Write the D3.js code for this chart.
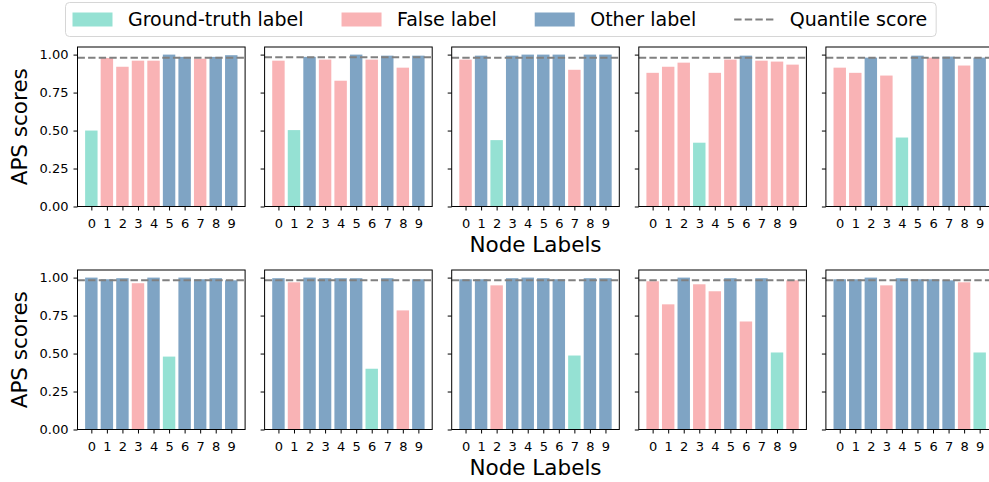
<!DOCTYPE html>
<html>
<head>
<meta charset="utf-8">
<script src="https://cdn.jsdelivr.net/npm/d3@7"></script>
<style>
  body { margin: 0; background: #fff; }
  svg { display: block; font-family: "DejaVu Sans", sans-serif; }
</style>
</head>
<body>
<svg id="chart" width="989" height="482"></svg>
<script>
// node labels on the x axis
const categories = [0, 1, 2, 3, 4, 5, 6, 7, 8, 9];
const yTicks = [0, 0.25, 0.5, 0.75, 1.0];

// APS score per node label, one array per panel (top row then bottom row)
const scores1 = [0.50, 0.978, 0.92, 0.96, 0.96, 1.0, 0.985, 0.973, 0.985, 0.996];
const scores2 = [0.96, 0.503, 0.985, 0.967, 0.828, 1.0, 0.967, 0.993, 0.914, 0.993];
const scores3 = [0.967, 0.993, 0.437, 0.993, 1.0, 1.0, 1.0, 0.90, 1.0, 1.0];
const scores4 = [0.88, 0.92, 0.947, 0.42, 0.88, 0.967, 0.993, 0.96, 0.954, 0.934];
const scores5 = [0.914, 0.88, 0.98, 0.862, 0.454, 0.993, 0.98, 0.987, 0.928, 0.98];
const scores6 = [1.0, 0.989, 0.996, 0.963, 1.0, 0.48, 1.0, 0.989, 0.996, 0.982];
const scores7 = [0.996, 0.969, 1.0, 0.996, 0.996, 0.996, 0.40, 0.996, 0.784, 0.989];
const scores8 = [0.989, 0.989, 0.949, 0.996, 1.0, 0.996, 0.989, 0.487, 0.996, 0.996];
const scores9 = [0.976, 0.824, 1.0, 0.956, 0.91, 0.996, 0.711, 0.996, 0.507, 0.982];
const scores10 = [0.989, 0.989, 1.0, 0.949, 0.996, 0.989, 0.989, 0.982, 0.969, 0.507];

// kind of each bar: G = ground-truth, F = false label, O = other label
const kinds1 = ['G','F','F','F','F','O','O','F','O','O'];
const kinds2 = ['F','G','O','F','F','O','F','O','F','O'];
const kinds3 = ['F','O','G','O','O','O','O','F','O','O'];
const kinds4 = ['F','F','F','G','F','F','O','F','F','F'];
const kinds5 = ['F','F','O','F','G','O','F','O','F','O'];
const kinds6 = ['O','O','O','F','O','G','O','O','O','O'];
const kinds7 = ['O','F','O','O','O','O','G','O','F','O'];
const kinds8 = ['O','O','F','O','O','O','O','G','O','O'];
const kinds9 = ['F','F','O','F','F','O','F','O','G','F'];
const kinds10 = ['O','O','O','F','O','O','O','O','F','G'];

// quantile score (dashed line) per panel
const quantiles = [0.98, 0.982, 0.98, 0.98, 0.98, 0.982, 0.982, 0.982, 0.982, 0.982];

const legendLabels = ['Ground-truth label', 'False label', 'Other label', 'Quantile score'];
const legendKinds = ['G', 'F', 'O', 'Q'];

const colors = { G: '#95e1d3', F: '#f9b3b5', O: '#7fa4c4' };

const panels = [
  { s: scores1, k: kinds1 }, { s: scores2, k: kinds2 }, { s: scores3, k: kinds3 },
  { s: scores4, k: kinds4 }, { s: scores5, k: kinds5 }, { s: scores6, k: kinds6 },
  { s: scores7, k: kinds7 }, { s: scores8, k: kinds8 }, { s: scores9, k: kinds9 },
  { s: scores10, k: kinds10 }
];

const svg = d3.select('#chart');
svg.append('rect').attr('width', 989).attr('height', 482).attr('fill', '#fff');

const panelW = 167.6;
const panelH = 159.5;
const colX = [77.5, 264.6, 451.7, 638.8, 825.9];
const rowY = [47, 270];

const xScale = d3.scaleLinear().domain([-0.89, 9.89]).range([0, panelW]);
const yScale = d3.scaleLinear().domain([0, 1.05]).range([panelH, 0]);
const barW = 0.8;

panels.forEach((p, i) => {
  const row = Math.floor(i / 5), col = i % 5;
  const g = svg.append('g')
    .attr('transform', `translate(${colX[col]}, ${rowY[row]})`);

  g.selectAll('rect.bar')
    .data(categories)
    .enter()
    .append('rect')
    .attr('class', 'bar')
    .attr('x', d => xScale(d - barW / 2))
    .attr('y', d => yScale(p.s[d]))
    .attr('width', xScale(barW) - xScale(0))
    .attr('height', d => yScale(0) - yScale(p.s[d]))
    .attr('fill', d => colors[p.k[d]]);

  g.append('line')
    .attr('x1', 0).attr('x2', panelW)
    .attr('y1', yScale(quantiles[i])).attr('y2', yScale(quantiles[i]))
    .attr('stroke', '#808080')
    .attr('stroke-width', 2)
    .attr('stroke-dasharray', '7.4,3.2');

  const xAxis = g.append('g')
    .attr('transform', `translate(0, ${panelH})`)
    .call(d3.axisBottom(xScale).tickValues(categories).tickSize(4).tickPadding(8).tickFormat(d3.format('d')));

  const yAxis = g.append('g')
    .call(d3.axisLeft(yScale).tickValues(yTicks).tickSize(4).tickPadding(5)
      .tickFormat(col === 0 ? d3.format('.2f') : ''));

  [xAxis, yAxis].forEach(a => {
    a.select('.domain').remove();
    a.selectAll('text').attr('font-size', 13).attr('font-family', 'DejaVu Sans').attr('fill', '#000');
    a.selectAll('line').attr('stroke', '#000').attr('stroke-width', 1);
  });

  g.append('rect')
    .attr('width', panelW).attr('height', panelH)
    .attr('fill', 'none')
    .attr('stroke', '#000')
    .attr('stroke-width', 1);

  if (col === 0) {
    svg.append('text')
      .attr('transform', `translate(26.5, ${rowY[row] + panelH / 2}) rotate(-90)`)
      .attr('text-anchor', 'middle')
      .attr('font-size', 21.5)
      .text('APS scores');
  }
  if (col === 2) {
    svg.append('text')
      .attr('x', colX[col] + panelW / 2)
      .attr('y', rowY[row] + panelH + 45.5)
      .attr('text-anchor', 'middle')
      .attr('font-size', 21.5)
      .text('Node Labels');
  }
});

// legend
const legend = svg.append('g');
const legendBox = legend.append('rect')
  .attr('x', 65.5).attr('y', 2.5)
  .attr('height', 34)
  .attr('rx', 4)
  .attr('fill', '#fff')
  .attr('stroke', '#d6d6d6')
  .attr('stroke-width', 1);

let lx = 72.5;
const ly = 19.5;
legendLabels.forEach((label, i) => {
  const kind = legendKinds[i];
  if (kind === 'Q') {
    legend.append('line')
      .attr('x1', lx).attr('x2', lx + 40)
      .attr('y1', ly).attr('y2', ly)
      .attr('stroke', '#808080')
      .attr('stroke-width', 2)
      .attr('stroke-dasharray', '7.4,3.2');
  } else {
    legend.append('rect')
      .attr('x', lx).attr('y', ly - 7)
      .attr('width', 40).attr('height', 14)
      .attr('fill', colors[kind]);
  }
  const t = legend.append('text')
    .attr('x', lx + 55.5)
    .attr('y', ly + 6.5)
    .attr('font-size', 19)
    .text(label);
  lx += 55.5 + t.node().getComputedTextLength() + 38;
});
legendBox.attr('width', lx - 38 + 9 - 65.5);
</script>
</body>
</html>
